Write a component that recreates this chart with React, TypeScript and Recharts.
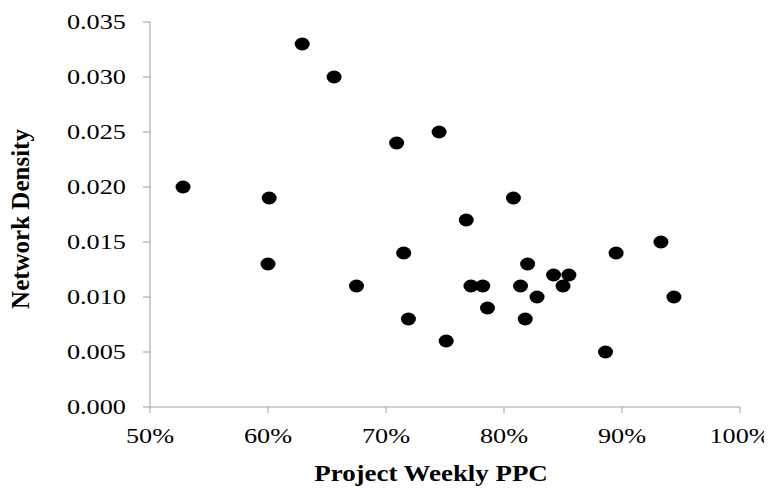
import { Label, Scatter, ScatterChart, XAxis, YAxis } from "recharts";

// Weekly PPC (fraction) against network density, one dot per project week.
const ppcValues = [
  0.528, 0.601, 0.6, 0.629, 0.656, 0.675, 0.709, 0.715, 0.719, 0.745, 0.751, 0.768, 0.772, 0.782,
  0.786, 0.808, 0.814, 0.818, 0.82, 0.828, 0.842, 0.85, 0.855, 0.886, 0.895, 0.933, 0.944,
];
const densityValues = [
  0.02, 0.019, 0.013, 0.033, 0.03, 0.011, 0.024, 0.014, 0.008, 0.025, 0.006, 0.017, 0.011, 0.011,
  0.009, 0.019, 0.011, 0.008, 0.013, 0.01, 0.012, 0.011, 0.012, 0.005, 0.014, 0.015, 0.01,
];
const xTicks = [0.5, 0.6, 0.7, 0.8, 0.9, 1.0];
const yTicks = [0, 0.005, 0.01, 0.015, 0.02, 0.025, 0.03, 0.035];

const xTitle = "Project Weekly PPC";
const yTitle = "Network Density";

const FONT = '"Liberation Serif", "Times New Roman", serif';
const AXIS_GRAY = "#a0a0a0";
// the original picture is stretched sideways a little; mimic that on the text
const STRETCH = 1.25;

const points = ppcValues.map((ppc, i) => ({ ppc, density: densityValues[i] }));

function XTick({ x, y, payload }: { x?: number; y?: number; payload?: { value: number } }) {
  if (x == null || y == null || !payload) return null;
  return (
    <g transform={`translate(${x},${y + 28})`}>
      <text transform={`scale(${STRETCH},1)`} textAnchor="middle" fontFamily={FONT} fontSize={21} fill="#000">
        {`${Math.round(payload.value * 100)}%`}
      </text>
    </g>
  );
}

function YTick({ x, y, payload }: { x?: number; y?: number; payload?: { value: number } }) {
  if (x == null || y == null || !payload) return null;
  return (
    <g transform={`translate(${x - 15},${y + 7})`}>
      <text transform={`scale(${STRETCH},1)`} textAnchor="end" fontFamily={FONT} fontSize={21} fill="#000">
        {payload.value.toFixed(3)}
      </text>
    </g>
  );
}

function Dot({ cx, cy }: { cx?: number; cy?: number }) {
  if (cx == null || cy == null) return <g />;
  return <ellipse cx={cx} cy={cy} rx={7.5} ry={6.5} fill="#000" />;
}

export default function App() {
  return (
    <div style={{ width: 764, height: 480, background: "#fff" }}>
      <ScatterChart width={764} height={480} margin={{ top: 14, right: 32, bottom: 0, left: 0 }}>
        <XAxis
          type="number"
          dataKey="ppc"
          domain={[0.5, 1]}
          ticks={xTicks}
          height={81}
          tickSize={6}
          stroke={AXIS_GRAY}
          tick={<XTick />}
        >
          <Label
            content={() => (
              <g transform="translate(423,473)">
                <text
                  transform="scale(1.17,1)"
                  textAnchor="middle"
                  fontFamily={FONT}
                  fontSize={23}
                  fontWeight="bold"
                  fill="#000"
                >
                  {xTitle}
                </text>
              </g>
            )}
          />
        </XAxis>
        <YAxis
          type="number"
          dataKey="density"
          domain={[0, 0.035]}
          ticks={yTicks}
          width={142}
          tickSize={7}
          stroke={AXIS_GRAY}
          tick={<YTick />}
        >
          <Label
            content={() => (
              <text
                x={21}
                y={211}
                transform="rotate(-90, 21, 211)"
                textAnchor="middle"
                fontFamily={FONT}
                fontSize={25}
                fontWeight="bold"
                fill="#000"
              >
                {yTitle}
              </text>
            )}
          />
        </YAxis>
        <Scatter data={points} shape={<Dot />} isAnimationActive={false} />
      </ScatterChart>
    </div>
  );
}
